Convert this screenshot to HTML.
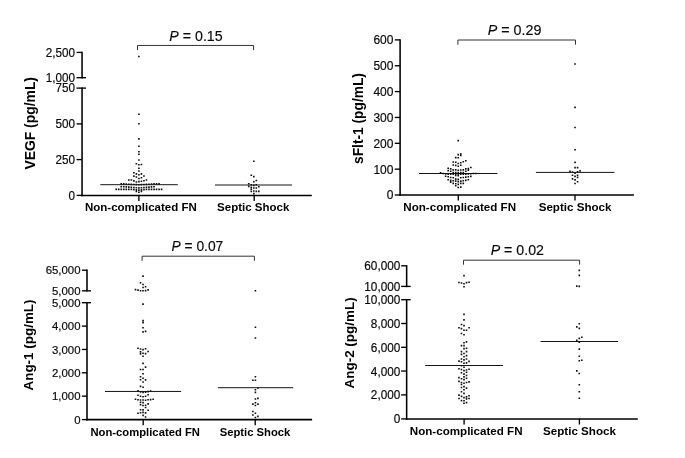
<!DOCTYPE html>
<html><head><meta charset="utf-8"><title>Figure</title>
<style>
html,body{margin:0;padding:0;background:#fff;}
svg{display:block;font-family:"Liberation Sans", Arial, Helvetica, sans-serif;}
</style></head><body>
<svg width="685" height="458" viewBox="0 0 685 458">
<rect width="685" height="458" fill="#fff"/>
<line x1="81.27" y1="195.4" x2="311.8" y2="195.4" stroke="#000" stroke-width="1.55"/>
<line x1="138.9" y1="195.4" x2="138.9" y2="201.0" stroke="#000" stroke-width="1.35"/>
<line x1="254.2" y1="195.4" x2="254.2" y2="201.0" stroke="#000" stroke-width="1.35"/>
<line x1="82.05" y1="51.73" x2="82.05" y2="78.48" stroke="#000" stroke-width="1.55"/>
<line x1="82.05" y1="87.42" x2="82.05" y2="196.18" stroke="#000" stroke-width="1.55"/>
<line x1="76.55" y1="52.4" x2="82.05" y2="52.4" stroke="#000" stroke-width="1.35"/>
<text transform="translate(75.05 56.78) scale(0.9669 1)" font-size="12.1" text-anchor="end" fill="#0a0a0a" stroke="#0a0a0a" stroke-width="0.18">2,500</text>
<line x1="76.55" y1="77.7" x2="86.05" y2="77.7" stroke="#000" stroke-width="1.35"/>
<text transform="translate(75.05 82.08) scale(0.9669 1)" font-size="12.1" text-anchor="end" fill="#0a0a0a" stroke="#0a0a0a" stroke-width="0.18">1,000</text>
<line x1="76.55" y1="88.1" x2="86.05" y2="88.1" stroke="#000" stroke-width="1.35"/>
<text transform="translate(75.05 92.48) scale(0.9669 1)" font-size="12.1" text-anchor="end" fill="#0a0a0a" stroke="#0a0a0a" stroke-width="0.18">750</text>
<line x1="76.55" y1="123.9" x2="82.05" y2="123.9" stroke="#000" stroke-width="1.35"/>
<text transform="translate(75.05 128.28) scale(0.9669 1)" font-size="12.1" text-anchor="end" fill="#0a0a0a" stroke="#0a0a0a" stroke-width="0.18">500</text>
<line x1="76.55" y1="159.6" x2="82.05" y2="159.6" stroke="#000" stroke-width="1.35"/>
<text transform="translate(75.05 163.98) scale(0.9669 1)" font-size="12.1" text-anchor="end" fill="#0a0a0a" stroke="#0a0a0a" stroke-width="0.18">250</text>
<line x1="76.55" y1="195.4" x2="82.05" y2="195.4" stroke="#000" stroke-width="1.35"/>
<text transform="translate(75.05 199.78) scale(0.9669 1)" font-size="12.1" text-anchor="end" fill="#0a0a0a" stroke="#0a0a0a" stroke-width="0.18">0</text>
<text x="34.8" y="123.3" font-size="13.9" text-anchor="middle" font-weight="bold" font-style="normal" fill="#000" transform="rotate(-90 34.8 123.3)">VEGF (pg/mL)</text>
<text x="140.9" y="211.2" font-size="11.5" text-anchor="middle" font-weight="bold" font-style="normal" fill="#000">Non-complicated FN</text>
<text x="253.2" y="211.2" font-size="11.5" text-anchor="middle" font-weight="bold" font-style="normal" fill="#000">Septic Shock</text>
<line x1="100.3" y1="184.7" x2="177.8" y2="184.7" stroke="#141414" stroke-width="1"/>
<line x1="215.0" y1="185.0" x2="292" y2="185.0" stroke="#141414" stroke-width="1"/>
<path d="M137.5 50.15V45.45H253.6V50.15" fill="none" stroke="#333" stroke-width="1"/>
<text x="196" y="41.1" font-size="14.2" text-anchor="middle" fill="#0a0a0a" stroke="#0a0a0a" stroke-width="0.15"><tspan font-style="italic">P</tspan> = 0.15</text>
<path d="M138.08 55.7h1.64v1.6h-1.64zM138.08 113.5h1.64v1.6h-1.64zM138.08 123.0h1.64v1.6h-1.64zM138.08 138.1h1.64v1.6h-1.64zM138.08 145.4h1.64v1.6h-1.64zM138.08 150.9h1.64v1.6h-1.64zM138.08 153.5h1.64v1.6h-1.64zM138.08 159.2h1.64v1.6h-1.64zM135.56 163.0h1.64v1.6h-1.64zM138.08 163.9h1.64v1.6h-1.64zM140.6 163.7h1.64v1.6h-1.64zM138.08 167.4h1.64v1.6h-1.64zM138.08 170.2h1.64v1.6h-1.64zM133.04 172.0h1.64v1.6h-1.64zM135.56 173.1h1.64v1.6h-1.64zM138.08 174.0h1.64v1.6h-1.64zM140.6 173.1h1.64v1.6h-1.64zM133.04 175.3h1.64v1.6h-1.64zM135.56 176.2h1.64v1.6h-1.64zM138.08 177.7h1.64v1.6h-1.64zM140.6 177.0h1.64v1.6h-1.64zM143.12 175.2h1.64v1.6h-1.64zM128.0 179.2h1.64v1.6h-1.64zM130.52 179.2h1.64v1.6h-1.64zM133.04 180.1h1.64v1.6h-1.64zM135.56 181.2h1.64v1.6h-1.64zM140.6 180.5h1.64v1.6h-1.64zM143.12 179.9h1.64v1.6h-1.64zM145.64 179.2h1.64v1.6h-1.64zM138.08 180.8h1.64v1.6h-1.64zM120.44 183.1h1.64v1.6h-1.64zM122.96 183.1h1.64v1.6h-1.64zM125.48 183.25h1.64v1.6h-1.64zM128.0 183.4h1.64v1.6h-1.64zM130.52 183.55h1.64v1.6h-1.64zM133.04 183.7h1.64v1.6h-1.64zM135.56 183.85h1.64v1.6h-1.64zM138.08 184.0h1.64v1.6h-1.64zM140.6 183.85h1.64v1.6h-1.64zM143.12 183.7h1.64v1.6h-1.64zM145.64 183.55h1.64v1.6h-1.64zM148.16 183.4h1.64v1.6h-1.64zM150.68 183.25h1.64v1.6h-1.64zM153.2 183.1h1.64v1.6h-1.64zM155.72 183.1h1.64v1.6h-1.64zM158.24 183.1h1.64v1.6h-1.64zM120.44 185.9h1.64v1.6h-1.64zM122.96 185.9h1.64v1.6h-1.64zM125.48 186.1h1.64v1.6h-1.64zM128.0 186.3h1.64v1.6h-1.64zM130.52 186.5h1.64v1.6h-1.64zM133.04 186.7h1.64v1.6h-1.64zM135.56 186.9h1.64v1.6h-1.64zM138.08 187.1h1.64v1.6h-1.64zM140.6 186.9h1.64v1.6h-1.64zM143.12 186.7h1.64v1.6h-1.64zM145.64 186.5h1.64v1.6h-1.64zM148.16 186.3h1.64v1.6h-1.64zM150.68 186.1h1.64v1.6h-1.64zM153.2 185.9h1.64v1.6h-1.64zM115.4 188.6h1.64v1.6h-1.64zM117.92 188.6h1.64v1.6h-1.64zM120.44 188.6h1.64v1.6h-1.64zM122.96 188.6h1.64v1.6h-1.64zM125.48 188.6h1.64v1.6h-1.64zM128.0 188.6h1.64v1.6h-1.64zM130.52 188.6h1.64v1.6h-1.64zM133.04 188.85h1.64v1.6h-1.64zM135.56 189.1h1.64v1.6h-1.64zM138.08 189.35h1.64v1.6h-1.64zM140.6 189.1h1.64v1.6h-1.64zM143.12 188.85h1.64v1.6h-1.64zM145.64 188.6h1.64v1.6h-1.64zM148.16 188.6h1.64v1.6h-1.64zM150.68 188.6h1.64v1.6h-1.64zM153.2 188.6h1.64v1.6h-1.64zM155.72 188.6h1.64v1.6h-1.64zM158.24 188.6h1.64v1.6h-1.64zM160.76 188.6h1.64v1.6h-1.64zM135.56 190.7h1.64v1.6h-1.64zM140.6 190.7h1.64v1.6h-1.64zM138.08 191.4h1.64v1.6h-1.64zM252.98 160.5h1.64v1.6h-1.64zM250.46 174.5h1.64v1.6h-1.64zM252.98 175.8h1.64v1.6h-1.64zM252.98 180.9h1.64v1.6h-1.64zM255.5 179.7h1.64v1.6h-1.64zM247.94 182.9h1.64v1.6h-1.64zM250.46 183.9h1.64v1.6h-1.64zM252.98 184.6h1.64v1.6h-1.64zM255.5 183.9h1.64v1.6h-1.64zM247.94 185.6h1.64v1.6h-1.64zM250.46 186.6h1.64v1.6h-1.64zM252.98 187.2h1.64v1.6h-1.64zM255.5 187.2h1.64v1.6h-1.64zM258.02 185.9h1.64v1.6h-1.64zM250.46 188.4h1.64v1.6h-1.64zM250.46 190.6h1.64v1.6h-1.64zM252.98 190.2h1.64v1.6h-1.64zM255.5 190.6h1.64v1.6h-1.64zM258.02 190.6h1.64v1.6h-1.64zM252.98 192.8h1.64v1.6h-1.64z" fill="#111"/>
<line x1="399.33" y1="195.0" x2="633.9" y2="195.0" stroke="#000" stroke-width="1.55"/>
<line x1="458.3" y1="195.0" x2="458.3" y2="200.6" stroke="#000" stroke-width="1.35"/>
<line x1="575" y1="195.0" x2="575" y2="200.6" stroke="#000" stroke-width="1.35"/>
<line x1="400.1" y1="39.23" x2="400.1" y2="195.78" stroke="#000" stroke-width="1.55"/>
<line x1="394.8" y1="39.9" x2="400.1" y2="39.9" stroke="#000" stroke-width="1.35"/>
<text transform="translate(393.4 44.39) scale(0.9677 1)" font-size="12.4" text-anchor="end" fill="#0a0a0a" stroke="#0a0a0a" stroke-width="0.18">600</text>
<line x1="394.8" y1="65.75" x2="400.1" y2="65.75" stroke="#000" stroke-width="1.35"/>
<text transform="translate(393.4 70.24) scale(0.9677 1)" font-size="12.4" text-anchor="end" fill="#0a0a0a" stroke="#0a0a0a" stroke-width="0.18">500</text>
<line x1="394.8" y1="91.6" x2="400.1" y2="91.6" stroke="#000" stroke-width="1.35"/>
<text transform="translate(393.4 96.09) scale(0.9677 1)" font-size="12.4" text-anchor="end" fill="#0a0a0a" stroke="#0a0a0a" stroke-width="0.18">400</text>
<line x1="394.8" y1="117.45" x2="400.1" y2="117.45" stroke="#000" stroke-width="1.35"/>
<text transform="translate(393.4 121.94) scale(0.9677 1)" font-size="12.4" text-anchor="end" fill="#0a0a0a" stroke="#0a0a0a" stroke-width="0.18">300</text>
<line x1="394.8" y1="143.3" x2="400.1" y2="143.3" stroke="#000" stroke-width="1.35"/>
<text transform="translate(393.4 147.79) scale(0.9677 1)" font-size="12.4" text-anchor="end" fill="#0a0a0a" stroke="#0a0a0a" stroke-width="0.18">200</text>
<line x1="394.8" y1="169.15" x2="400.1" y2="169.15" stroke="#000" stroke-width="1.35"/>
<text transform="translate(393.4 173.64) scale(0.9677 1)" font-size="12.4" text-anchor="end" fill="#0a0a0a" stroke="#0a0a0a" stroke-width="0.18">100</text>
<line x1="394.8" y1="195.0" x2="400.1" y2="195.0" stroke="#000" stroke-width="1.35"/>
<text transform="translate(393.4 199.49) scale(0.9677 1)" font-size="12.4" text-anchor="end" fill="#0a0a0a" stroke="#0a0a0a" stroke-width="0.18">0</text>
<text x="362.9" y="118.5" font-size="13.75" text-anchor="middle" font-weight="bold" font-style="normal" fill="#000" transform="rotate(-90 362.9 118.5)">sFlt-1 (pg/mL)</text>
<text x="459.7" y="210.8" font-size="11.6" text-anchor="middle" font-weight="bold" font-style="normal" fill="#000">Non-complicated FN</text>
<text x="575.1" y="210.8" font-size="11.6" text-anchor="middle" font-weight="bold" font-style="normal" fill="#000">Septic Shock</text>
<line x1="419.0" y1="173.5" x2="497.4" y2="173.5" stroke="#141414" stroke-width="1"/>
<line x1="535.9" y1="172.4" x2="614.4" y2="172.4" stroke="#141414" stroke-width="1"/>
<path d="M457.9 44.7V40.0H575.5V44.7" fill="none" stroke="#333" stroke-width="1"/>
<text x="514.6" y="34.7" font-size="14.3" text-anchor="middle" fill="#0a0a0a" stroke="#0a0a0a" stroke-width="0.15"><tspan font-style="italic">P</tspan> = 0.29</text>
<path d="M439.79 172.1h1.64v1.6h-1.64zM442.31 172.7h1.64v1.6h-1.64zM444.83 173.1h1.64v1.6h-1.64zM444.83 175.4h1.64v1.6h-1.64zM447.35 167.5h1.64v1.6h-1.64zM447.35 169.8h1.64v1.6h-1.64zM447.35 173.4h1.64v1.6h-1.64zM447.35 176.0h1.64v1.6h-1.64zM447.35 179.0h1.64v1.6h-1.64zM449.87 168.1h1.64v1.6h-1.64zM449.87 170.4h1.64v1.6h-1.64zM449.87 173.4h1.64v1.6h-1.64zM449.87 176.7h1.64v1.6h-1.64zM449.87 179.6h1.64v1.6h-1.64zM449.87 181.3h1.64v1.6h-1.64zM452.39 161.2h1.64v1.6h-1.64zM452.39 164.2h1.64v1.6h-1.64zM452.39 169.1h1.64v1.6h-1.64zM452.39 171.7h1.64v1.6h-1.64zM452.39 173.5h1.64v1.6h-1.64zM452.39 177.0h1.64v1.6h-1.64zM452.39 180.0h1.64v1.6h-1.64zM452.39 182.6h1.64v1.6h-1.64zM454.91 156.8h1.64v1.6h-1.64zM454.91 161.4h1.64v1.6h-1.64zM454.91 164.6h1.64v1.6h-1.64zM454.91 169.1h1.64v1.6h-1.64zM454.91 171.7h1.64v1.6h-1.64zM454.91 173.5h1.64v1.6h-1.64zM454.91 174.7h1.64v1.6h-1.64zM454.91 178.3h1.64v1.6h-1.64zM454.91 180.3h1.64v1.6h-1.64zM454.91 182.9h1.64v1.6h-1.64zM454.91 184.9h1.64v1.6h-1.64zM457.43 139.8h1.64v1.6h-1.64zM457.43 153.8h1.64v1.6h-1.64zM457.43 157.0h1.64v1.6h-1.64zM457.43 162.7h1.64v1.6h-1.64zM457.43 165.5h1.64v1.6h-1.64zM457.43 169.4h1.64v1.6h-1.64zM457.43 171.8h1.64v1.6h-1.64zM457.43 173.6h1.64v1.6h-1.64zM457.43 174.9h1.64v1.6h-1.64zM457.43 178.6h1.64v1.6h-1.64zM457.43 180.8h1.64v1.6h-1.64zM457.43 183.6h1.64v1.6h-1.64zM457.43 186.7h1.64v1.6h-1.64zM459.95 153.3h1.64v1.6h-1.64zM459.95 154.6h1.64v1.6h-1.64zM459.95 162.0h1.64v1.6h-1.64zM459.95 164.4h1.64v1.6h-1.64zM459.95 169.2h1.64v1.6h-1.64zM459.95 171.7h1.64v1.6h-1.64zM459.95 173.5h1.64v1.6h-1.64zM459.95 177.0h1.64v1.6h-1.64zM459.95 180.3h1.64v1.6h-1.64zM459.95 182.6h1.64v1.6h-1.64zM459.95 186.3h1.64v1.6h-1.64zM462.47 161.0h1.64v1.6h-1.64zM462.47 169.1h1.64v1.6h-1.64zM462.47 171.7h1.64v1.6h-1.64zM462.47 173.4h1.64v1.6h-1.64zM462.47 176.7h1.64v1.6h-1.64zM462.47 180.0h1.64v1.6h-1.64zM462.47 182.6h1.64v1.6h-1.64zM464.99 160.0h1.64v1.6h-1.64zM464.99 168.1h1.64v1.6h-1.64zM464.99 170.4h1.64v1.6h-1.64zM464.99 173.4h1.64v1.6h-1.64zM464.99 176.3h1.64v1.6h-1.64zM464.99 179.6h1.64v1.6h-1.64zM467.51 167.8h1.64v1.6h-1.64zM467.51 169.4h1.64v1.6h-1.64zM467.51 173.2h1.64v1.6h-1.64zM467.51 176.0h1.64v1.6h-1.64zM467.51 179.0h1.64v1.6h-1.64zM470.03 166.7h1.64v1.6h-1.64zM470.03 173.0h1.64v1.6h-1.64zM470.03 175.6h1.64v1.6h-1.64zM472.55 172.7h1.64v1.6h-1.64zM475.07 172.7h1.64v1.6h-1.64zM574.23 63.2h1.64v1.6h-1.64zM574.23 106.6h1.64v1.6h-1.64zM574.23 126.7h1.64v1.6h-1.64zM574.23 149.0h1.64v1.6h-1.64zM574.23 161.6h1.64v1.6h-1.64zM574.23 166.8h1.64v1.6h-1.64zM576.75 166.8h1.64v1.6h-1.64zM569.19 170.6h1.64v1.6h-1.64zM571.71 171.2h1.64v1.6h-1.64zM574.23 172.4h1.64v1.6h-1.64zM576.75 170.9h1.64v1.6h-1.64zM579.27 170.1h1.64v1.6h-1.64zM571.71 174.5h1.64v1.6h-1.64zM574.23 175.6h1.64v1.6h-1.64zM576.75 174.5h1.64v1.6h-1.64zM576.75 176.6h1.64v1.6h-1.64zM571.71 178.1h1.64v1.6h-1.64zM574.23 179.1h1.64v1.6h-1.64zM576.75 181.0h1.64v1.6h-1.64zM574.23 182.7h1.64v1.6h-1.64z" fill="#111"/>
<line x1="86.22" y1="419.6" x2="312.1" y2="419.6" stroke="#000" stroke-width="1.55"/>
<line x1="143.2" y1="419.6" x2="143.2" y2="425.2" stroke="#000" stroke-width="1.35"/>
<line x1="255.2" y1="419.6" x2="255.2" y2="425.2" stroke="#000" stroke-width="1.35"/>
<line x1="87.0" y1="269.52" x2="87.0" y2="291.57" stroke="#000" stroke-width="1.55"/>
<line x1="87.0" y1="302.02" x2="87.0" y2="420.38" stroke="#000" stroke-width="1.55"/>
<line x1="81.9" y1="270.2" x2="87.0" y2="270.2" stroke="#000" stroke-width="1.35"/>
<text transform="translate(80.5 274.47) scale(0.9661 1)" font-size="11.8" text-anchor="end" fill="#0a0a0a" stroke="#0a0a0a" stroke-width="0.18">65,000</text>
<line x1="81.9" y1="290.8" x2="91.0" y2="290.8" stroke="#000" stroke-width="1.35"/>
<text transform="translate(80.5 295.07) scale(0.9661 1)" font-size="11.8" text-anchor="end" fill="#0a0a0a" stroke="#0a0a0a" stroke-width="0.18">5,000</text>
<line x1="81.9" y1="302.7" x2="91.0" y2="302.7" stroke="#000" stroke-width="1.35"/>
<text transform="translate(80.5 306.97) scale(0.9661 1)" font-size="11.8" text-anchor="end" fill="#0a0a0a" stroke="#0a0a0a" stroke-width="0.18">5,000</text>
<line x1="81.9" y1="326.1" x2="87.0" y2="326.1" stroke="#000" stroke-width="1.35"/>
<text transform="translate(80.5 330.37) scale(0.9661 1)" font-size="11.8" text-anchor="end" fill="#0a0a0a" stroke="#0a0a0a" stroke-width="0.18">4,000</text>
<line x1="81.9" y1="349.45" x2="87.0" y2="349.45" stroke="#000" stroke-width="1.35"/>
<text transform="translate(80.5 353.72) scale(0.9661 1)" font-size="11.8" text-anchor="end" fill="#0a0a0a" stroke="#0a0a0a" stroke-width="0.18">3,000</text>
<line x1="81.9" y1="372.8" x2="87.0" y2="372.8" stroke="#000" stroke-width="1.35"/>
<text transform="translate(80.5 377.07) scale(0.9661 1)" font-size="11.8" text-anchor="end" fill="#0a0a0a" stroke="#0a0a0a" stroke-width="0.18">2,000</text>
<line x1="81.9" y1="396.15" x2="87.0" y2="396.15" stroke="#000" stroke-width="1.35"/>
<text transform="translate(80.5 400.42) scale(0.9661 1)" font-size="11.8" text-anchor="end" fill="#0a0a0a" stroke="#0a0a0a" stroke-width="0.18">1,000</text>
<line x1="81.9" y1="419.6" x2="87.0" y2="419.6" stroke="#000" stroke-width="1.35"/>
<text transform="translate(80.5 423.87) scale(0.9661 1)" font-size="11.8" text-anchor="end" fill="#0a0a0a" stroke="#0a0a0a" stroke-width="0.18">0</text>
<text x="33.2" y="345" font-size="13.45" text-anchor="middle" font-weight="bold" font-style="normal" fill="#000" transform="rotate(-90 33.2 345)">Ang-1 (pg/mL)</text>
<text x="145.2" y="435.5" font-size="11.25" text-anchor="middle" font-weight="bold" font-style="normal" fill="#000">Non-complicated FN</text>
<text x="255" y="435.5" font-size="11.25" text-anchor="middle" font-weight="bold" font-style="normal" fill="#000">Septic Shock</text>
<line x1="105.0" y1="391.45" x2="181.1" y2="391.45" stroke="#141414" stroke-width="1"/>
<line x1="217.9" y1="387.7" x2="293.2" y2="387.7" stroke="#141414" stroke-width="1"/>
<path d="M142.1 260.8V256.2H254.4V260.8" fill="none" stroke="#333" stroke-width="1"/>
<text x="197.4" y="251" font-size="13.8" text-anchor="middle" fill="#0a0a0a" stroke="#0a0a0a" stroke-width="0.15"><tspan font-style="italic">P</tspan> = 0.07</text>
<path d="M142.23 275.3h1.64v1.6h-1.64zM139.71 282.0h1.64v1.6h-1.64zM142.23 283.7h1.64v1.6h-1.64zM142.23 286.7h1.64v1.6h-1.64zM144.75 286.0h1.64v1.6h-1.64zM134.67 288.8h1.64v1.6h-1.64zM137.19 289.3h1.64v1.6h-1.64zM139.71 290.0h1.64v1.6h-1.64zM142.23 290.0h1.64v1.6h-1.64zM144.75 289.8h1.64v1.6h-1.64zM147.27 289.1h1.64v1.6h-1.64zM142.23 303.3h1.64v1.6h-1.64zM142.23 319.8h1.64v1.6h-1.64zM142.23 321.8h1.64v1.6h-1.64zM142.23 326.9h1.64v1.6h-1.64zM142.23 331.1h1.64v1.6h-1.64zM144.75 330.6h1.64v1.6h-1.64zM137.19 347.5h1.64v1.6h-1.64zM139.71 348.2h1.64v1.6h-1.64zM142.23 348.8h1.64v1.6h-1.64zM144.75 347.9h1.64v1.6h-1.64zM139.71 351.1h1.64v1.6h-1.64zM147.27 350.7h1.64v1.6h-1.64zM139.71 353.1h1.64v1.6h-1.64zM142.23 352.5h1.64v1.6h-1.64zM144.75 352.8h1.64v1.6h-1.64zM142.23 355.5h1.64v1.6h-1.64zM142.23 362.6h1.64v1.6h-1.64zM144.75 366.3h1.64v1.6h-1.64zM139.71 368.7h1.64v1.6h-1.64zM142.23 368.7h1.64v1.6h-1.64zM142.23 372.9h1.64v1.6h-1.64zM139.71 375.9h1.64v1.6h-1.64zM142.23 377.5h1.64v1.6h-1.64zM139.71 378.9h1.64v1.6h-1.64zM144.75 379.1h1.64v1.6h-1.64zM142.23 381.2h1.64v1.6h-1.64zM139.71 385.6h1.64v1.6h-1.64zM142.23 386.4h1.64v1.6h-1.64zM137.19 389.9h1.64v1.6h-1.64zM139.71 391.1h1.64v1.6h-1.64zM142.23 391.7h1.64v1.6h-1.64zM144.75 391.4h1.64v1.6h-1.64zM147.27 390.8h1.64v1.6h-1.64zM149.79 390.2h1.64v1.6h-1.64zM137.19 394.4h1.64v1.6h-1.64zM139.71 395.5h1.64v1.6h-1.64zM142.23 396.0h1.64v1.6h-1.64zM144.75 395.4h1.64v1.6h-1.64zM147.27 393.9h1.64v1.6h-1.64zM134.67 398.5h1.64v1.6h-1.64zM137.19 399.0h1.64v1.6h-1.64zM139.71 399.2h1.64v1.6h-1.64zM142.23 399.2h1.64v1.6h-1.64zM144.75 399.4h1.64v1.6h-1.64zM147.27 399.0h1.64v1.6h-1.64zM149.79 398.8h1.64v1.6h-1.64zM152.31 398.5h1.64v1.6h-1.64zM139.71 401.5h1.64v1.6h-1.64zM142.23 401.8h1.64v1.6h-1.64zM139.71 403.8h1.64v1.6h-1.64zM142.23 404.7h1.64v1.6h-1.64zM144.75 404.5h1.64v1.6h-1.64zM147.27 403.1h1.64v1.6h-1.64zM144.75 406.7h1.64v1.6h-1.64zM139.71 408.9h1.64v1.6h-1.64zM142.23 409.1h1.64v1.6h-1.64zM147.27 409.5h1.64v1.6h-1.64zM137.19 412.5h1.64v1.6h-1.64zM139.71 411.9h1.64v1.6h-1.64zM142.23 411.6h1.64v1.6h-1.64zM144.75 412.1h1.64v1.6h-1.64zM142.23 414.6h1.64v1.6h-1.64zM144.75 416.2h1.64v1.6h-1.64zM254.58 289.9h1.64v1.6h-1.64zM254.58 326.5h1.64v1.6h-1.64zM254.58 337.2h1.64v1.6h-1.64zM254.58 376.0h1.64v1.6h-1.64zM252.06 379.4h1.64v1.6h-1.64zM254.58 379.4h1.64v1.6h-1.64zM254.58 388.9h1.64v1.6h-1.64zM257.1 387.2h1.64v1.6h-1.64zM254.58 391.6h1.64v1.6h-1.64zM254.58 398.2h1.64v1.6h-1.64zM257.1 397.6h1.64v1.6h-1.64zM252.06 403.3h1.64v1.6h-1.64zM254.58 402.0h1.64v1.6h-1.64zM257.1 403.3h1.64v1.6h-1.64zM254.58 404.7h1.64v1.6h-1.64zM252.06 410.7h1.64v1.6h-1.64zM254.58 412.4h1.64v1.6h-1.64zM252.06 414.2h1.64v1.6h-1.64zM257.1 415.6h1.64v1.6h-1.64zM254.58 416.7h1.64v1.6h-1.64z" fill="#111"/>
<line x1="405.88" y1="418.9" x2="637.8" y2="418.9" stroke="#000" stroke-width="1.55"/>
<line x1="464.1" y1="418.9" x2="464.1" y2="424.5" stroke="#000" stroke-width="1.35"/>
<line x1="579.4" y1="418.9" x2="579.4" y2="424.5" stroke="#000" stroke-width="1.35"/>
<line x1="406.65" y1="265.12" x2="406.65" y2="287.17" stroke="#000" stroke-width="1.55"/>
<line x1="406.65" y1="299.02" x2="406.65" y2="419.67" stroke="#000" stroke-width="1.55"/>
<line x1="401.15" y1="265.8" x2="406.65" y2="265.8" stroke="#000" stroke-width="1.35"/>
<text transform="translate(400.35 270.29) scale(0.9516 1)" font-size="12.4" text-anchor="end" fill="#0a0a0a" stroke="#0a0a0a" stroke-width="0.18">60,000</text>
<line x1="401.15" y1="286.4" x2="410.65" y2="286.4" stroke="#000" stroke-width="1.35"/>
<text transform="translate(400.35 290.89) scale(0.9516 1)" font-size="12.4" text-anchor="end" fill="#0a0a0a" stroke="#0a0a0a" stroke-width="0.18">10,000</text>
<line x1="401.15" y1="299.7" x2="410.65" y2="299.7" stroke="#000" stroke-width="1.35"/>
<text transform="translate(400.35 304.19) scale(0.9516 1)" font-size="12.4" text-anchor="end" fill="#0a0a0a" stroke="#0a0a0a" stroke-width="0.18">10,000</text>
<line x1="401.15" y1="323.5" x2="406.65" y2="323.5" stroke="#000" stroke-width="1.35"/>
<text transform="translate(400.35 327.99) scale(0.9516 1)" font-size="12.4" text-anchor="end" fill="#0a0a0a" stroke="#0a0a0a" stroke-width="0.18">8,000</text>
<line x1="401.15" y1="347.3" x2="406.65" y2="347.3" stroke="#000" stroke-width="1.35"/>
<text transform="translate(400.35 351.79) scale(0.9516 1)" font-size="12.4" text-anchor="end" fill="#0a0a0a" stroke="#0a0a0a" stroke-width="0.18">6,000</text>
<line x1="401.15" y1="371.05" x2="406.65" y2="371.05" stroke="#000" stroke-width="1.35"/>
<text transform="translate(400.35 375.54) scale(0.9516 1)" font-size="12.4" text-anchor="end" fill="#0a0a0a" stroke="#0a0a0a" stroke-width="0.18">4,000</text>
<line x1="401.15" y1="394.9" x2="406.65" y2="394.9" stroke="#000" stroke-width="1.35"/>
<text transform="translate(400.35 399.39) scale(0.9516 1)" font-size="12.4" text-anchor="end" fill="#0a0a0a" stroke="#0a0a0a" stroke-width="0.18">2,000</text>
<line x1="401.15" y1="418.9" x2="406.65" y2="418.9" stroke="#000" stroke-width="1.35"/>
<text transform="translate(400.35 423.39) scale(0.9516 1)" font-size="12.4" text-anchor="end" fill="#0a0a0a" stroke="#0a0a0a" stroke-width="0.18">0</text>
<text x="354.5" y="342.9" font-size="13.45" text-anchor="middle" font-weight="bold" font-style="normal" fill="#000" transform="rotate(-90 354.5 342.9)">Ang-2 (pg/mL)</text>
<text x="466.2" y="435.1" font-size="11.6" text-anchor="middle" font-weight="bold" font-style="normal" fill="#000">Non-complicated FN</text>
<text x="579.5" y="435.1" font-size="11.6" text-anchor="middle" font-weight="bold" font-style="normal" fill="#000">Septic Shock</text>
<line x1="425.2" y1="365.5" x2="502.9" y2="365.5" stroke="#141414" stroke-width="1"/>
<line x1="540.5" y1="341.5" x2="618.1" y2="341.5" stroke="#141414" stroke-width="1"/>
<path d="M463.5 264.7V260.2H579.6V264.7" fill="none" stroke="#333" stroke-width="1"/>
<text x="517.3" y="254.5" font-size="14.2" text-anchor="middle" fill="#0a0a0a" stroke="#0a0a0a" stroke-width="0.15"><tspan font-style="italic">P</tspan> = 0.02</text>
<path d="M463.18 274.8h1.64v1.6h-1.64zM458.14 281.7h1.64v1.6h-1.64zM460.66 282.2h1.64v1.6h-1.64zM463.18 283.0h1.64v1.6h-1.64zM465.7 281.8h1.64v1.6h-1.64zM468.22 281.5h1.64v1.6h-1.64zM463.18 286.0h1.64v1.6h-1.64zM463.18 313.6h1.64v1.6h-1.64zM463.18 319.1h1.64v1.6h-1.64zM460.66 323.7h1.64v1.6h-1.64zM463.18 324.8h1.64v1.6h-1.64zM458.14 326.9h1.64v1.6h-1.64zM460.66 327.8h1.64v1.6h-1.64zM463.18 329.4h1.64v1.6h-1.64zM465.7 329.4h1.64v1.6h-1.64zM468.22 326.9h1.64v1.6h-1.64zM460.66 332.7h1.64v1.6h-1.64zM463.18 334.0h1.64v1.6h-1.64zM463.18 341.9h1.64v1.6h-1.64zM465.7 341.1h1.64v1.6h-1.64zM460.66 344.8h1.64v1.6h-1.64zM463.18 344.8h1.64v1.6h-1.64zM463.18 347.8h1.64v1.6h-1.64zM465.7 347.5h1.64v1.6h-1.64zM460.66 350.8h1.64v1.6h-1.64zM465.7 350.8h1.64v1.6h-1.64zM460.66 353.6h1.64v1.6h-1.64zM463.18 352.7h1.64v1.6h-1.64zM465.7 354.8h1.64v1.6h-1.64zM463.18 355.9h1.64v1.6h-1.64zM460.66 358.2h1.64v1.6h-1.64zM463.18 359.1h1.64v1.6h-1.64zM465.7 358.2h1.64v1.6h-1.64zM458.14 360.3h1.64v1.6h-1.64zM460.66 360.9h1.64v1.6h-1.64zM463.18 362.5h1.64v1.6h-1.64zM465.7 362.1h1.64v1.6h-1.64zM468.22 360.6h1.64v1.6h-1.64zM460.66 364.9h1.64v1.6h-1.64zM463.18 366.4h1.64v1.6h-1.64zM458.14 368.0h1.64v1.6h-1.64zM460.66 368.7h1.64v1.6h-1.64zM463.18 369.8h1.64v1.6h-1.64zM465.7 369.2h1.64v1.6h-1.64zM468.22 368.5h1.64v1.6h-1.64zM460.66 371.9h1.64v1.6h-1.64zM463.18 373.3h1.64v1.6h-1.64zM465.7 371.5h1.64v1.6h-1.64zM465.7 374.7h1.64v1.6h-1.64zM463.18 376.1h1.64v1.6h-1.64zM458.14 376.8h1.64v1.6h-1.64zM460.66 377.9h1.64v1.6h-1.64zM463.18 378.8h1.64v1.6h-1.64zM465.7 377.4h1.64v1.6h-1.64zM458.14 380.6h1.64v1.6h-1.64zM460.66 381.7h1.64v1.6h-1.64zM463.18 382.4h1.64v1.6h-1.64zM465.7 381.7h1.64v1.6h-1.64zM468.22 381.1h1.64v1.6h-1.64zM460.66 383.7h1.64v1.6h-1.64zM460.66 386.7h1.64v1.6h-1.64zM463.18 385.8h1.64v1.6h-1.64zM465.7 387.3h1.64v1.6h-1.64zM463.18 389.0h1.64v1.6h-1.64zM460.66 391.0h1.64v1.6h-1.64zM463.18 392.6h1.64v1.6h-1.64zM458.14 394.3h1.64v1.6h-1.64zM460.66 395.6h1.64v1.6h-1.64zM463.18 396.8h1.64v1.6h-1.64zM465.7 396.1h1.64v1.6h-1.64zM468.22 394.9h1.64v1.6h-1.64zM458.14 397.7h1.64v1.6h-1.64zM465.7 398.1h1.64v1.6h-1.64zM468.22 397.7h1.64v1.6h-1.64zM460.66 399.8h1.64v1.6h-1.64zM463.18 400.0h1.64v1.6h-1.64zM463.18 402.5h1.64v1.6h-1.64zM465.7 401.8h1.64v1.6h-1.64zM578.48 269.6h1.64v1.6h-1.64zM578.48 274.6h1.64v1.6h-1.64zM575.96 285.3h1.64v1.6h-1.64zM578.48 285.6h1.64v1.6h-1.64zM578.48 323.0h1.64v1.6h-1.64zM575.96 326.1h1.64v1.6h-1.64zM578.48 327.6h1.64v1.6h-1.64zM578.48 337.6h1.64v1.6h-1.64zM581.0 336.5h1.64v1.6h-1.64zM575.96 339.6h1.64v1.6h-1.64zM578.48 341.4h1.64v1.6h-1.64zM578.48 348.3h1.64v1.6h-1.64zM578.48 355.5h1.64v1.6h-1.64zM578.48 360.0h1.64v1.6h-1.64zM581.0 359.4h1.64v1.6h-1.64zM575.96 370.1h1.64v1.6h-1.64zM578.48 372.7h1.64v1.6h-1.64zM578.48 383.9h1.64v1.6h-1.64zM578.48 391.0h1.64v1.6h-1.64zM578.48 397.4h1.64v1.6h-1.64z" fill="#111"/>
</svg>
</body></html>
